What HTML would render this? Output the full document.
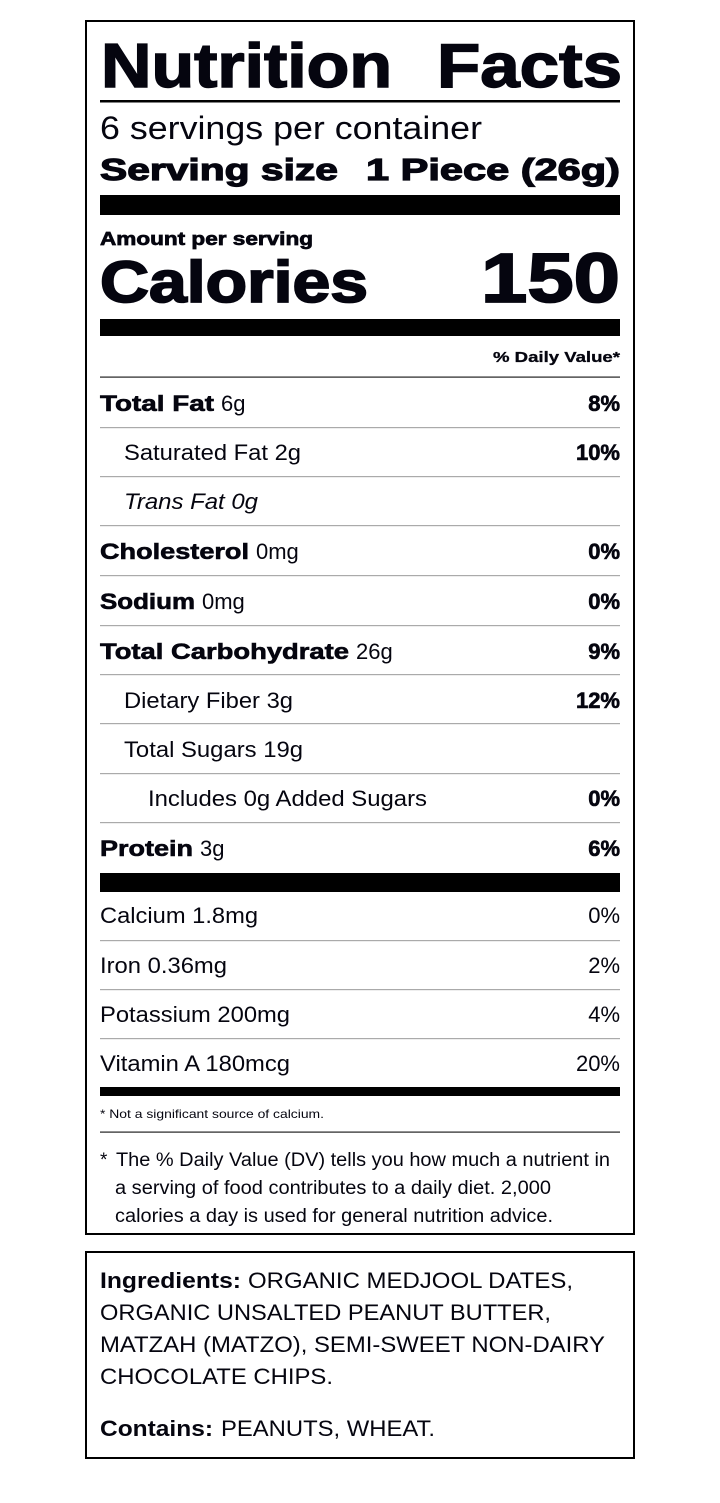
<!DOCTYPE html>
<html><head><meta charset="utf-8"><style>
html,body{margin:0;padding:0;background:#fff;}
svg{display:block;}
text{font-family:"Liberation Sans",Arial,sans-serif;fill:#05050f;}
.h{font-weight:bold;stroke:#05050f;stroke-width:0.9;paint-order:stroke;}
.r{font-size:22px;}
.b{font-weight:bold;stroke:#05050f;stroke-width:0.6;}
.e{text-anchor:end;}
</style></head><body>
<svg width="720" height="1503" viewBox="0 0 720 1503" xmlns="http://www.w3.org/2000/svg">
<rect x="86" y="21" width="548" height="1213" fill="none" stroke="#000" stroke-width="2"/>
<text x="101" y="87" font-size="62" class="h" style="stroke-width:1.5" textLength="291" lengthAdjust="spacingAndGlyphs">Nutrition</text>
<text x="437" y="87" font-size="62" class="h" style="stroke-width:1.5" textLength="185" lengthAdjust="spacingAndGlyphs">Facts</text>
<rect x="100" y="100" width="520" height="2.5" fill="#000"/>
<text x="100" y="139" font-size="32" textLength="382" lengthAdjust="spacingAndGlyphs">6 servings per container</text>
<text x="100" y="180" font-size="31" class="h" style="stroke-width:1.2" textLength="238" lengthAdjust="spacingAndGlyphs">Serving size</text>
<text x="366" y="180" font-size="31" class="h" style="stroke-width:1.2" textLength="254" lengthAdjust="spacingAndGlyphs">1 Piece (26g)</text>
<rect x="100" y="195" width="520" height="20" fill="#000"/>
<text x="100" y="245" font-size="18" class="h" style="stroke-width:0.7" textLength="213" lengthAdjust="spacingAndGlyphs">Amount per serving</text>
<text x="100" y="302" font-size="58" class="h" style="stroke-width:1.8" textLength="268" lengthAdjust="spacingAndGlyphs">Calories</text>
<text x="620" y="302" font-size="70" class="h e" style="stroke-width:1.8" textLength="139" lengthAdjust="spacingAndGlyphs">150</text>
<rect x="100" y="319" width="520" height="17" fill="#000"/>
<text x="620" y="362" font-size="15" class="b e" style="stroke-width:0.3" textLength="127" lengthAdjust="spacingAndGlyphs">% Daily Value*</text>
<rect x="100" y="376.5" width="520" height="1.2" fill="#222"/>
<g fill="#aaa">
<rect x="100" y="427" width="520" height="1.2"/>
<rect x="100" y="476" width="520" height="1.2"/>
<rect x="100" y="525" width="520" height="1.2"/>
<rect x="100" y="575" width="520" height="1.2"/>
<rect x="100" y="625" width="520" height="1.2"/>
<rect x="100" y="674" width="520" height="1.2"/>
<rect x="100" y="723" width="520" height="1.2"/>
<rect x="100" y="773" width="520" height="1.2"/>
<rect x="100" y="822" width="520" height="1.2"/>
<rect x="100" y="940" width="520" height="1.2"/>
<rect x="100" y="989" width="520" height="1.2"/>
<rect x="100" y="1038" width="520" height="1.2"/>
</g>
<g class="r">
<text x="100" y="411" class="b" textLength="114" lengthAdjust="spacingAndGlyphs">Total Fat</text><text x="221" y="411">6g</text>
<text x="620" y="411" class="b e">8%</text>
<text x="124" y="460" textLength="177" lengthAdjust="spacingAndGlyphs">Saturated Fat 2g</text>
<text x="620" y="460" class="b e">10%</text>
<text x="124" y="509" font-style="italic" textLength="134" lengthAdjust="spacingAndGlyphs">Trans Fat 0g</text>
<text x="100" y="559" class="b" textLength="149" lengthAdjust="spacingAndGlyphs">Cholesterol</text><text x="256" y="559">0mg</text>
<text x="620" y="559" class="b e">0%</text>
<text x="100" y="609" class="b" textLength="95" lengthAdjust="spacingAndGlyphs">Sodium</text><text x="202" y="609">0mg</text>
<text x="620" y="609" class="b e">0%</text>
<text x="100" y="659" class="b" textLength="249" lengthAdjust="spacingAndGlyphs">Total Carbohydrate</text><text x="356" y="659">26g</text>
<text x="620" y="659" class="b e">9%</text>
<text x="124" y="708" textLength="169" lengthAdjust="spacingAndGlyphs">Dietary Fiber 3g</text>
<text x="620" y="708" class="b e">12%</text>
<text x="124" y="757" textLength="179" lengthAdjust="spacingAndGlyphs">Total Sugars 19g</text>
<text x="148" y="806" textLength="279" lengthAdjust="spacingAndGlyphs">Includes 0g Added Sugars</text>
<text x="620" y="806" class="b e">0%</text>
<text x="100" y="856" class="b" textLength="93" lengthAdjust="spacingAndGlyphs">Protein</text><text x="200" y="856">3g</text>
<text x="620" y="856" class="b e">6%</text>
</g>
<rect x="100" y="873" width="520" height="19" fill="#000"/>
<g class="r">
<text x="100" y="923" textLength="158" lengthAdjust="spacingAndGlyphs">Calcium 1.8mg</text><text x="620" y="923" class="e">0%</text>
<text x="100" y="973" textLength="127" lengthAdjust="spacingAndGlyphs">Iron 0.36mg</text><text x="620" y="973" class="e">2%</text>
<text x="100" y="1022" textLength="190" lengthAdjust="spacingAndGlyphs">Potassium 200mg</text><text x="620" y="1022" class="e">4%</text>
<text x="100" y="1071" textLength="190" lengthAdjust="spacingAndGlyphs">Vitamin A 180mcg</text><text x="620" y="1071" class="e">20%</text>
</g>
<rect x="100" y="1087" width="520" height="9" fill="#000"/>
<text x="100" y="1118" font-size="12" textLength="224" lengthAdjust="spacingAndGlyphs">* Not a significant source of calcium.</text>
<rect x="100" y="1131.5" width="520" height="1.2" fill="#222"/>
<g font-size="19">
<text x="100" y="1166">*</text>
<text x="116" y="1166" font-size="19" textLength="494" lengthAdjust="spacingAndGlyphs">The % Daily Value (DV) tells you how much a nutrient in</text>
<text x="115" y="1194" font-size="19" textLength="436" lengthAdjust="spacingAndGlyphs">a serving of food contributes to a daily diet. 2,000</text>
<text x="115" y="1222" font-size="19" textLength="438" lengthAdjust="spacingAndGlyphs">calories a day is used for general nutrition advice.</text>
</g>
<rect x="86" y="1252" width="548" height="206" fill="none" stroke="#000" stroke-width="2"/>
<g font-size="22">
<text x="100" y="1288" font-weight="bold" textLength="141" lengthAdjust="spacingAndGlyphs">Ingredients:</text>
<text x="248" y="1288" textLength="325" lengthAdjust="spacingAndGlyphs">ORGANIC MEDJOOL DATES,</text>
<text x="100" y="1320" textLength="451" lengthAdjust="spacingAndGlyphs">ORGANIC UNSALTED PEANUT BUTTER,</text>
<text x="100" y="1352" textLength="505" lengthAdjust="spacingAndGlyphs">MATZAH (MATZO), SEMI-SWEET NON-DAIRY</text>
<text x="100" y="1384" textLength="233" lengthAdjust="spacingAndGlyphs">CHOCOLATE CHIPS.</text>
<text x="100" y="1436" font-weight="bold" textLength="113" lengthAdjust="spacingAndGlyphs">Contains:</text>
<text x="221" y="1436" textLength="214" lengthAdjust="spacingAndGlyphs">PEANUTS, WHEAT.</text>
</g>
</svg>
</body></html>
